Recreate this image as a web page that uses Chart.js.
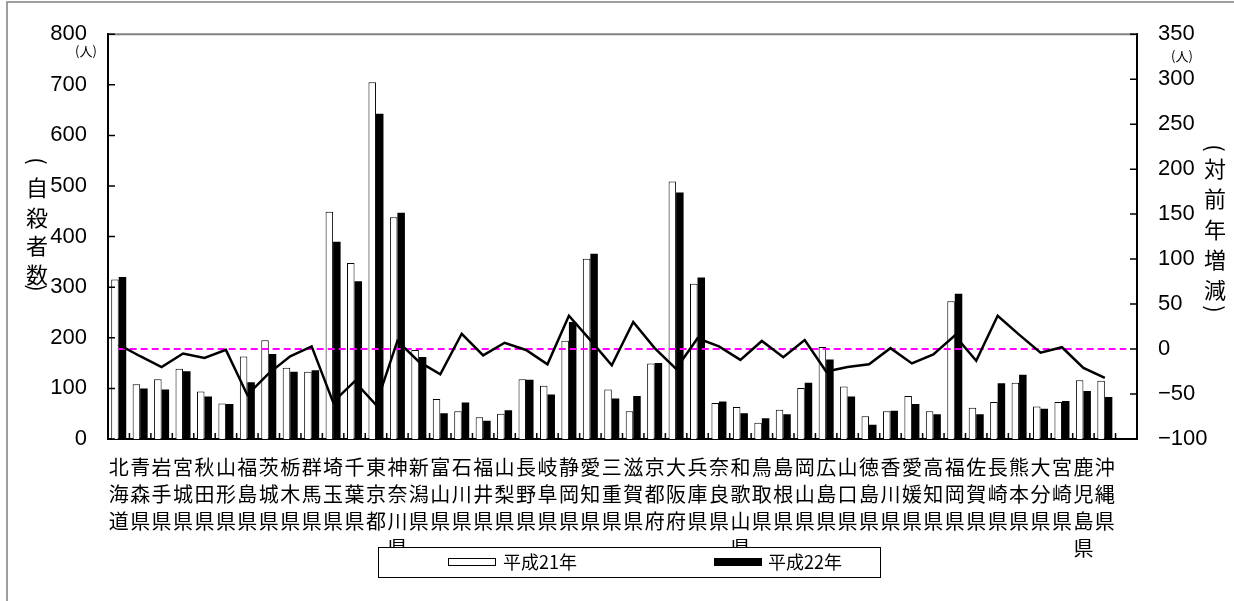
<!DOCTYPE html>
<html><head><meta charset="utf-8">
<script src="https://cdn.jsdelivr.net/npm/chart.js@4.4.0/dist/chart.umd.min.js"></script>
<style>html,body{margin:0;padding:0;background:#fff;}#wrap{width:1234px;height:601px;}</style>
</head><body><div id="wrap"><canvas id="c" width="1234" height="601"></canvas></div>
<script>
const prefectures = [
 ['北','海','道'],['青','森','県'],['岩','手','県'],['宮','城','県'],['秋','田','県'],['山','形','県'],
 ['福','島','県'],['茨','城','県'],['栃','木','県'],['群','馬','県'],['埼','玉','県'],['千','葉','県'],
 ['東','京','都'],['神','奈','川','県'],['新','潟','県'],['富','山','県'],['石','川','県'],['福','井','県'],
 ['山','梨','県'],['長','野','県'],['岐','阜','県'],['静','岡','県'],['愛','知','県'],['三','重','県'],
 ['滋','賀','県'],['京','都','府'],['大','阪','府'],['兵','庫','県'],['奈','良','県'],['和','歌','山','県'],
 ['鳥','取','県'],['島','根','県'],['岡','山','県'],['広','島','県'],['山','口','県'],['徳','島','県'],
 ['香','川','県'],['愛','媛','県'],['高','知','県'],['福','岡','県'],['佐','賀','県'],['長','崎','県'],
 ['熊','本','県'],['大','分','県'],['宮','崎','県'],['鹿','児','島','県'],['沖','縄','県'],['']
];
const seriesH21 = [315,108,118,139,94,70,163,195,141,133,449,348,705,438,176,79,55,43,50,118,105,194,356,98,55,149,509,307,71,63,32,58,101,182,104,45,55,85,55,272,62,73,111,64,73,116,115,null];
const seriesH22 = [320,100,98,134,84,69,112,168,133,136,390,312,643,447,162,51,72,36,57,117,88,231,366,80,85,150,487,319,74,51,41,49,111,157,84,28,56,69,49,287,49,110,127,60,75,95,83,null];
const seriesDiff = [5,-8,-20,-5,-10,-1,-51,-27,-8,3,-59,-36,-62,9,-14,-28,17,-7,7,-1,-17,37,10,-18,30,1,-22,12,3,-12,9,-9,10,-25,-20,-17,1,-16,-6,15,-13,37,16,-4,2,-21,-32,null];
const zeroRef = [0,0,0,0,0,0,0,0,0,0,0,0,0,0,0,0,0,0,0,0,0,0,0,0,0,0,0,0,0,0,0,0,0,0,0,0,0,0,0,0,0,0,0,0,0,0,0,0];
const leftTicks = [0,100,200,300,400,500,600,700,800];
const rightTicks = [-100,-50,0,50,100,150,200,250,300,350];
const seriesNames = ['平成21年','平成22年'];
const leftTitle = ['(','自','殺','者','数',')'];
const rightTitle = ['(','対','前','年','増','減',')'];
const unitText = '(人)';

const JP = '"Noto Sans CJK JP", "Noto Sans", sans-serif';
const NUM = '"Liberation Sans", Arial, sans-serif';

function drawVertical(ctx, chars, x, ys) {
  chars.forEach((ch, i) => {
    if (ch === '(' || ch === ')') {
      ctx.save(); ctx.translate(x, ys[i]); ctx.rotate(Math.PI / 2);
      ctx.fillText(ch, 0, 0); ctx.restore();
    } else {
      ctx.fillText(ch, x, ys[i]);
    }
  });
}

const decor = {
  id: 'decor',
  beforeDraw(chart) {
    const ctx = chart.ctx;
    ctx.save(); ctx.fillStyle = '#fff'; ctx.fillRect(0, 0, chart.width, chart.height); ctx.restore();
  },
  afterDraw(chart) {
    const ctx = chart.ctx, ca = chart.chartArea;
    const xs = chart.scales.x, yl = chart.scales.y, yr = chart.scales.y2;
    ctx.save();
    // outer frame
    ctx.strokeStyle = '#808080'; ctx.lineWidth = 1.5;
    ctx.beginPath(); ctx.moveTo(7, 601); ctx.lineTo(7, 2); ctx.lineTo(1234, 2); ctx.stroke();
    // plot top border
    ctx.strokeStyle = '#808080'; ctx.lineWidth = 2;
    ctx.beginPath(); ctx.moveTo(ca.left, ca.top); ctx.lineTo(ca.right, ca.top); ctx.stroke();
    // inner ticks
    ctx.strokeStyle = '#000'; ctx.lineWidth = 1.5;
    ctx.beginPath();
    const n = prefectures.length;
    for (let i = 1; i < n; i++) {
      const px = (xs.getPixelForValue(i - 1) + xs.getPixelForValue(i)) / 2;
      ctx.moveTo(px, ca.bottom); ctx.lineTo(px, ca.bottom - 6);
    }
    leftTicks.forEach(v => { const py = yl.getPixelForValue(v); ctx.moveTo(ca.left, py); ctx.lineTo(ca.left + 7, py); });
    rightTicks.forEach(v => { const py = yr.getPixelForValue(v); ctx.moveTo(ca.right, py); ctx.lineTo(ca.right - 7, py); });
    ctx.stroke();
    // unit labels
    ctx.fillStyle = '#000';
    ctx.font = '13px ' + JP; ctx.textBaseline = 'middle'; ctx.textAlign = 'center';
    ctx.fillText(unitText, 86, 51);
    ctx.fillText(unitText, 1182, 56);
    // vertical titles
    ctx.font = '22px ' + JP; ctx.textAlign = 'center';
    drawVertical(ctx, leftTitle, 37, [161, 188, 218, 246, 275, 288]);
    drawVertical(ctx, rightTitle, 1215, [148, 169, 199, 230, 260, 290, 309]);
    // legend box
    const bx = 378, by = 547, bw = 502, bh = 30;
    ctx.fillStyle = '#fff'; ctx.fillRect(bx, by, bw, bh);
    ctx.strokeStyle = '#000'; ctx.lineWidth = 1; ctx.strokeRect(bx + 0.5, by + 0.5, bw, bh);
    const ds = chart.data.datasets.filter(d => d.type === 'bar');
    const items = [[448, 503], [714, 768]];
    const cy = by + bh / 2;
    ds.forEach((d, i) => {
      const [ix, tx] = items[i];
      ctx.fillStyle = d.backgroundColor; ctx.fillRect(ix, cy - 4, 47, 8);
      ctx.strokeStyle = '#000'; ctx.lineWidth = 1; ctx.strokeRect(ix + 0.5, cy - 3.5, 47, 7);
      ctx.fillStyle = '#000'; ctx.font = '18px ' + JP; ctx.textAlign = 'left'; ctx.textBaseline = 'middle';
      ctx.fillText(d.label, tx, cy);
    });
    ctx.restore();
  }
};

new Chart(document.getElementById('c'), {
  data: {
    labels: prefectures,
    datasets: [
      { type: 'line', label: '対前年増減', data: seriesDiff, yAxisID: 'y2', borderColor: '#000', borderWidth: 2.5,
        pointRadius: 0, tension: 0, fill: false, order: 0, spanGaps: false },
      { type: 'line', label: '基準', data: zeroRef, yAxisID: 'y2', borderColor: '#ff00ff', borderWidth: 2,
        borderDash: [7, 4], pointRadius: 0, fill: false, order: 1 },
      { type: 'bar', label: seriesNames[0], data: seriesH21, yAxisID: 'y', backgroundColor: '#ffffff',
        borderColor: '#000', borderWidth: 1, categoryPercentage: 0.7, barPercentage: 1.0, order: 2 },
      { type: 'bar', label: seriesNames[1], data: seriesH22, yAxisID: 'y', backgroundColor: '#000000',
        borderColor: '#000', borderWidth: 0, categoryPercentage: 0.7, barPercentage: 1.0, order: 2 }
    ]
  },
  options: {
    responsive: false, animation: false, devicePixelRatio: 1,
    layout: { padding: { top: 31, left: 0, right: 0, bottom: 0 } },
    plugins: { legend: { display: false }, tooltip: { enabled: false } },
    scales: {
      x: {
        type: 'category', offset: true,
        grid: { display: false, drawTicks: false },
        border: { display: true, color: '#000', width: 2 },
        ticks: { autoSkip: false, maxRotation: 0, minRotation: 0, padding: 15, color: '#000',
          font: { family: JP, size: 20, lineHeight: 1.35 } },
        afterFit(s) { s.height = 162; }
      },
      y: {
        position: 'left', min: 0, max: 800,
        grid: { display: false, drawTicks: false },
        border: { display: true, color: '#000', width: 2 },
        afterBuildTicks(s) { s.ticks = leftTicks.map(v => ({ value: v })); },
        ticks: { padding: 21, color: '#000', font: { family: NUM, size: 22 } },
        afterFit(s) { s.width = 108; }
      },
      y2: {
        position: 'right', min: -100, max: 350,
        grid: { display: false, drawTicks: false },
        border: { display: true, color: '#000', width: 2 },
        afterBuildTicks(s) { s.ticks = rightTicks.map(v => ({ value: v })); },
        ticks: { padding: 21, color: '#000', font: { family: NUM, size: 22 },
          callback: (v) => v < 0 ? '\u2212' + Math.abs(v) : String(v) },
        afterFit(s) { s.width = 97; }
      }
    }
  },
  plugins: [decor]
});
</script></body></html>
